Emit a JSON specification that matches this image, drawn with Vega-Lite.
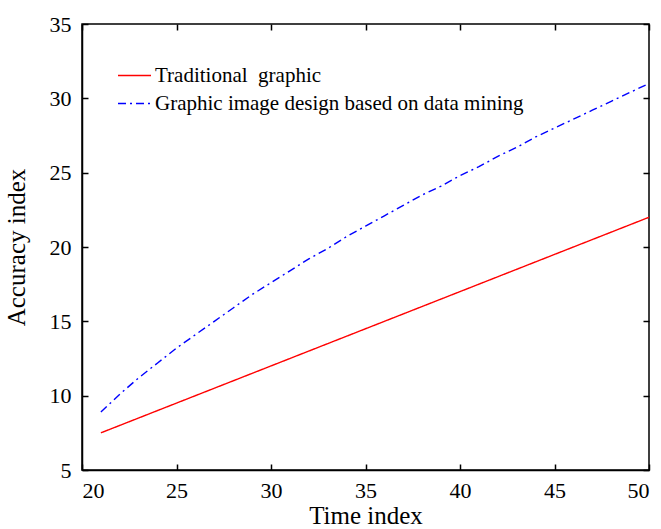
{
  "$schema": "https://vega.github.io/schema/vega-lite/v6.json",
  "width": 567,
  "height": 446,
  "autosize": {"type": "none"},
  "padding": {"left": 82, "top": 24, "right": 12, "bottom": 59},
  "background": "white",
  "config": {
    "font": "Liberation Serif",
    "view": {"stroke": "#000", "strokeWidth": 1.5},
    "axis": {
      "grid": false,
      "domainColor": "#000",
      "domainWidth": 1.5,
      "tickColor": "#000",
      "tickWidth": 1.5,
      "labelFont": "Liberation Serif",
      "labelFontSize": 22,
      "labelColor": "#000",
      "titleFont": "Liberation Serif",
      "titleFontSize": 25,
      "titleFontWeight": "normal",
      "titleColor": "#000"
    }
  },
  "data": {
    "values": [
      {"t": 21, "v": 7.5, "series": "Traditional\u00a0\u00a0graphic"},
      {"t": 25, "v": 9.5, "series": "Traditional\u00a0\u00a0graphic"},
      {"t": 30, "v": 12.0, "series": "Traditional\u00a0\u00a0graphic"},
      {"t": 35, "v": 14.5, "series": "Traditional\u00a0\u00a0graphic"},
      {"t": 40, "v": 17.0, "series": "Traditional\u00a0\u00a0graphic"},
      {"t": 45, "v": 19.5, "series": "Traditional\u00a0\u00a0graphic"},
      {"t": 50, "v": 22.0, "series": "Traditional\u00a0\u00a0graphic"},
      {"t": 21, "v": 8.9, "series": "Graphic image design based on data mining"},
      {"t": 22, "v": 10.1, "series": "Graphic image design based on data mining"},
      {"t": 23, "v": 11.2, "series": "Graphic image design based on data mining"},
      {"t": 24, "v": 12.2, "series": "Graphic image design based on data mining"},
      {"t": 25, "v": 13.2, "series": "Graphic image design based on data mining"},
      {"t": 26, "v": 14.1, "series": "Graphic image design based on data mining"},
      {"t": 27, "v": 15.0, "series": "Graphic image design based on data mining"},
      {"t": 28, "v": 15.9, "series": "Graphic image design based on data mining"},
      {"t": 29, "v": 16.8, "series": "Graphic image design based on data mining"},
      {"t": 30, "v": 17.6, "series": "Graphic image design based on data mining"},
      {"t": 31, "v": 18.4, "series": "Graphic image design based on data mining"},
      {"t": 32, "v": 19.2, "series": "Graphic image design based on data mining"},
      {"t": 33, "v": 19.9, "series": "Graphic image design based on data mining"},
      {"t": 34, "v": 20.7, "series": "Graphic image design based on data mining"},
      {"t": 35, "v": 21.4, "series": "Graphic image design based on data mining"},
      {"t": 36, "v": 22.1, "series": "Graphic image design based on data mining"},
      {"t": 37, "v": 22.8, "series": "Graphic image design based on data mining"},
      {"t": 38, "v": 23.5, "series": "Graphic image design based on data mining"},
      {"t": 39, "v": 24.1, "series": "Graphic image design based on data mining"},
      {"t": 40, "v": 24.8, "series": "Graphic image design based on data mining"},
      {"t": 41, "v": 25.4, "series": "Graphic image design based on data mining"},
      {"t": 42, "v": 26.1, "series": "Graphic image design based on data mining"},
      {"t": 43, "v": 26.7, "series": "Graphic image design based on data mining"},
      {"t": 44, "v": 27.4, "series": "Graphic image design based on data mining"},
      {"t": 45, "v": 28.0, "series": "Graphic image design based on data mining"},
      {"t": 46, "v": 28.6, "series": "Graphic image design based on data mining"},
      {"t": 47, "v": 29.2, "series": "Graphic image design based on data mining"},
      {"t": 48, "v": 29.8, "series": "Graphic image design based on data mining"},
      {"t": 49, "v": 30.4, "series": "Graphic image design based on data mining"},
      {"t": 50, "v": 31.0, "series": "Graphic image design based on data mining"}
    ]
  },
  "resolve": {"axis": {"x": "independent", "y": "independent"}},
  "layer": [
    {
      "mark": {"type": "line", "strokeWidth": 1.4},
      "encoding": {
        "x": {
          "field": "t", "type": "quantitative",
          "scale": {"domain": [20, 50], "nice": false, "zero": false},
          "axis": {"orient": "bottom", "values": [20, 25, 30, 35, 40, 45, 50], "ticks": false, "labelPadding": 10, "labelFontSize": 22, "labelFont": "Liberation Serif", "title": "Time index", "titlePadding": 2, "titleFontSize": 25}
        },
        "y": {
          "field": "v", "type": "quantitative",
          "scale": {"domain": [5, 35], "nice": false, "zero": false},
          "axis": {"orient": "left", "values": [5, 10, 15, 20, 25, 30, 35], "ticks": false, "labelPadding": 11, "labelFontSize": 22, "labelFont": "Liberation Serif", "title": "Accuracy index", "titlePadding": 20, "titleFontSize": 25}
        },
        "color": {
          "field": "series", "type": "nominal",
          "scale": {"domain": ["Traditional\u00a0\u00a0graphic", "Graphic image design based on data mining"], "range": ["#ff0000", "#0000ff"]},
          "legend": {
            "title": null, "orient": "none", "legendX": 35, "legendY": 34,
            "padding": 0, "symbolType": "stroke", "symbolSize": 1089, "symbolStrokeWidth": 1.4,
            "labelFont": "Liberation Serif", "labelFontSize": 21, "labelColor": "#000", "labelLimit": 0,
            "labelOffset": 3, "rowPadding": -7
          }
        },
        "strokeDash": {
          "field": "series", "type": "nominal",
          "scale": {"domain": ["Traditional\u00a0\u00a0graphic", "Graphic image design based on data mining"], "range": [[1, 0], [8, 4, 2, 4]]},
          "legend": null
        }
      }
    },
    {
      "mark": {"type": "point", "opacity": 0},
      "encoding": {
        "x": {
          "field": "t", "type": "quantitative",
          "axis": {"orient": "top", "offset": -446, "domain": false, "values": [20, 25, 30, 35, 40, 45, 50], "tickSize": 6, "labels": false, "title": null}
        },
        "y": {
          "field": "v", "type": "quantitative",
          "axis": {"orient": "right", "offset": -567, "domain": false, "values": [5, 10, 15, 20, 25, 30, 35], "tickSize": 6, "labels": false, "title": null}
        }
      }
    },
    {
      "mark": {"type": "point", "opacity": 0},
      "encoding": {
        "x": {
          "field": "t", "type": "quantitative",
          "axis": {"orient": "bottom", "offset": -446, "domain": false, "values": [20, 25, 30, 35, 40, 45, 50], "tickSize": 6, "labels": false, "title": null}
        },
        "y": {
          "field": "v", "type": "quantitative",
          "axis": {"orient": "left", "offset": -567, "domain": false, "values": [5, 10, 15, 20, 25, 30, 35], "tickSize": 6, "labels": false, "title": null}
        }
      }
    }
  ]
}
